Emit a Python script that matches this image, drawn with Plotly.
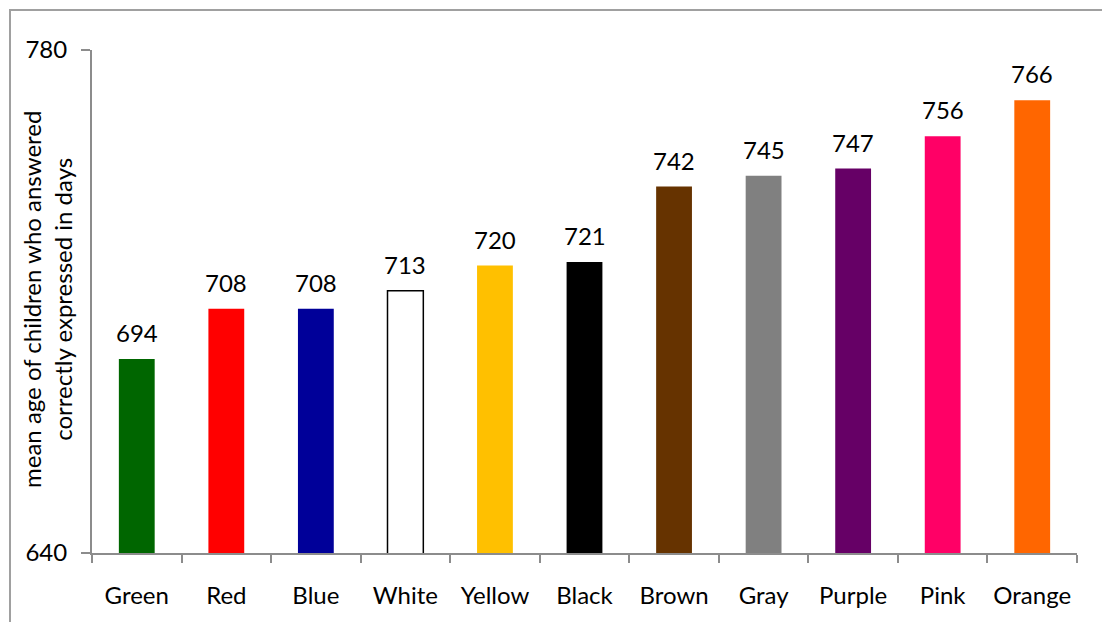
import plotly.graph_objects as go

categories = ["Green", "Red", "Blue", "White", "Yellow", "Black", "Brown", "Gray", "Purple", "Pink", "Orange"]
values = [694, 708, 708, 713, 720, 721, 742, 745, 747, 756, 766]
colors = ["#006600", "#FF0000", "#000099", "#FFFFFF", "#FFC000", "#000000",
          "#663300", "#808080", "#660066", "#FF0066", "#FF6600"]
line_colors = ["rgba(0,0,0,0)"] * 3 + ["#000000"] + ["rgba(0,0,0,0)"] * 7
line_widths = [0, 0, 0, 1.5, 0, 0, 0, 0, 0, 0, 0]

FONT = "Lato, Open Sans, sans-serif"
FS = 24

fig = go.Figure()
fig.add_trace(go.Bar(
    x=categories, y=values,
    marker=dict(color=colors, line=dict(color=line_colors, width=line_widths)),
    width=0.4,
    hoverinfo="skip",
))

for c, v in zip(categories, values):
    fig.add_annotation(x=c, y=v, text=str(v), showarrow=False,
                       yanchor="bottom", yshift=10,
                       font=dict(family=FONT, size=FS, color="#000000"))

W, H = 1102, 622
ml, mr, mt, mb = 92, 25, 50, 69
pw, ph = W - ml - mr, H - mt - mb

# outer chart border (extends past the right/bottom edge of the image)
fig.add_shape(type="rect", xref="paper", yref="paper",
              x0=(10 - ml) / pw, x1=(W + 20 - ml) / pw,
              y0=-(H + 20 - (mt + ph)) / ph, y1=1 + (mt - 10) / ph,
              line=dict(color="#A0A0A0", width=2), fillcolor="rgba(0,0,0,0)",
              layer="below")

# y-axis title (two lines)
fig.add_annotation(xref="paper", yref="paper",
                   x=(47 - ml) / pw, y=1 - (300 - mt) / ph,
                   xanchor="center", yanchor="middle", textangle=-90,
                   text="mean age of children who answered<br>correctly expressed in days",
                   showarrow=False,
                   font=dict(family=FONT, size=FS, color="#000000"))

fig.update_layout(
    width=W, height=H,
    margin=dict(l=ml, r=mr, t=mt, b=mb, pad=0),
    paper_bgcolor="white", plot_bgcolor="white",
    showlegend=False,
    font=dict(family=FONT, size=FS, color="#000000"),
    xaxis=dict(
        showline=True, linecolor="#8C8C8C", linewidth=2,
        ticks="outside", tickson="boundaries", ticklen=8, tickcolor="#8C8C8C", tickwidth=2,
        tickfont=dict(family=FONT, size=FS, color="#000000"),
        ticklabelstandoff=20,
        showgrid=False, zeroline=False, automargin=False,
    ),
    yaxis=dict(
        range=[640, 780], tickvals=[640, 780],
        showline=True, linecolor="#8C8C8C", linewidth=2,
        ticks="outside", ticklen=9, tickcolor="#8C8C8C", tickwidth=2,
        tickfont=dict(family=FONT, size=FS, color="#000000"),
        ticklabelstandoff=9,
        showgrid=True, gridcolor="#8C8C8C", gridwidth=2,
        zeroline=False, automargin=False,
    ),
)

fig.write_html("out.html")
